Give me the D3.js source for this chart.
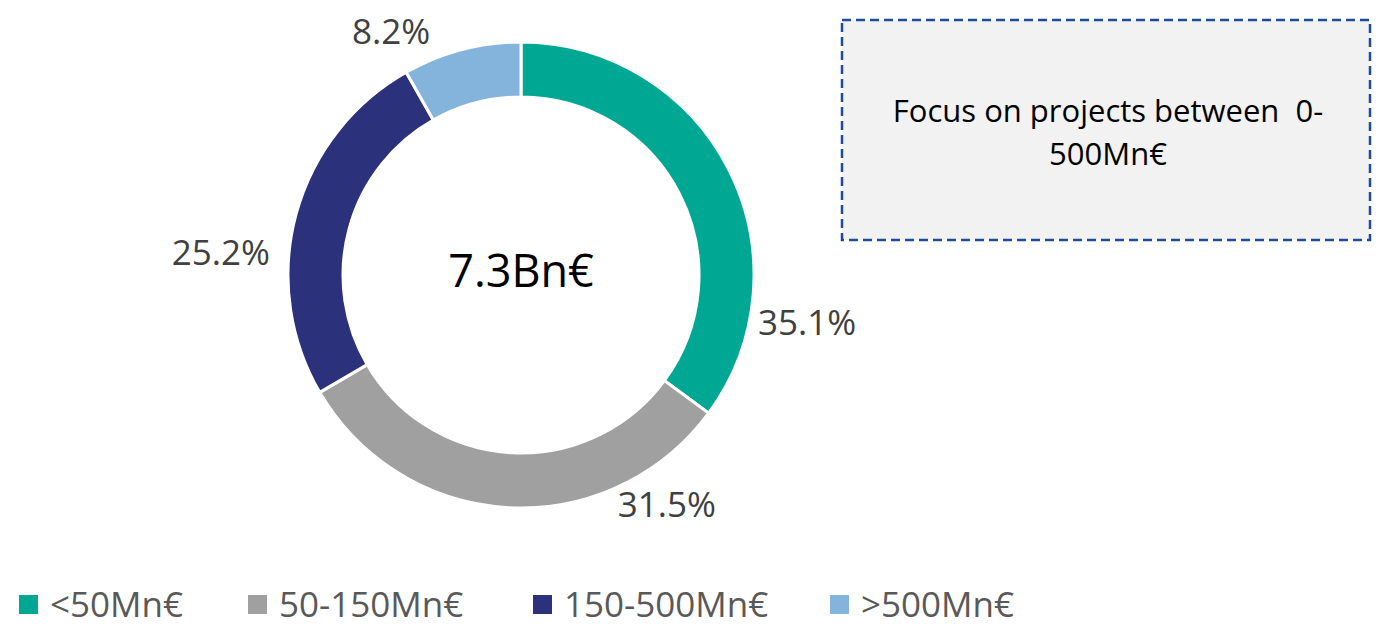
<!DOCTYPE html>
<html>
<head>
<meta charset="utf-8">
<script src="https://cdn.jsdelivr.net/npm/d3@7"></script>
<style>
  body { margin: 0; background: #fff; }
  svg { display: block; font-family: "Open Sans", sans-serif; }
</style>
</head>
<body>
<svg width="1379" height="627"></svg>
<script>
var categories = ['<50Mn€', '50-150Mn€', '150-500Mn€', '>500Mn€'];
var shares = [35.1, 31.5, 25.2, 8.2];
var colors = ['#00a894', '#a0a0a0', '#2b317b', '#84b4dc'];
var totalLabel = '7.3Bn€';
var noteLines = ['Focus on projects between  0-', '500Mn€'];

// label placement: angle in degrees from top, distance from centre
var labelSpots = [[99.4, 290], [147.6, 272], [274.3, 301], [331.9, 276]];

var cx = 521, cy = 275;
var outerR = 233, innerR = 178;

var svg = d3.select('svg');

var pie = d3.pie()
            .sort(null)
            .value(d => d);
var arc = d3.arc()
            .innerRadius(innerR)
            .outerRadius(outerR);

var donut = svg.append('g')
               .attr('transform', 'translate(' + cx + ',' + cy + ')');

donut.selectAll('path')
  .data(pie(shares))
  .enter()
  .append('path')
    .attr('d', arc)
    .attr('fill', (d, i) => colors[i])
    .attr('stroke', '#fff')
    .attr('stroke-width', 3);

var rad = a => a * Math.PI / 180;

donut.selectAll('text.pct')
  .data(shares)
  .enter()
  .append('text')
    .attr('class', 'pct')
    .attr('x', (d, i) => labelSpots[i][1] * Math.sin(rad(labelSpots[i][0])))
    .attr('y', (d, i) => -labelSpots[i][1] * Math.cos(rad(labelSpots[i][0])) + 12.5)
    .attr('text-anchor', 'middle')
    .attr('font-size', 35)
    .attr('fill', '#404040')
    .text(d => d.toFixed(1) + '%');

donut.append('text')
  .attr('y', 12)
  .attr('text-anchor', 'middle')
  .attr('font-size', 45)
  .attr('fill', '#000')
  .text(totalLabel);

// note box
var box = svg.append('g').attr('transform', 'translate(842,20)');
box.append('rect')
  .attr('width', 528)
  .attr('height', 220)
  .attr('fill', '#f2f2f2')
  .attr('stroke', '#1f4b99')
  .attr('stroke-width', 2.5)
  .attr('stroke-dasharray', '9,5');
box.selectAll('text')
  .data(noteLines)
  .enter()
  .append('text')
    .attr('x', 266)
    .attr('y', (d, i) => 102 + i * 43)
    .attr('text-anchor', 'middle')
    .attr('font-size', 31)
    .attr('fill', '#000')
    .style('white-space', 'pre')
    .text(d => d);

// legend
var legendX = [19, 248, 533, 830];
var legend = svg.selectAll('g.legend')
  .data(categories)
  .enter()
  .append('g')
    .attr('class', 'legend')
    .attr('transform', (d, i) => 'translate(' + legendX[i] + ',0)');
legend.append('rect')
  .attr('y', 595)
  .attr('width', 19)
  .attr('height', 19)
  .attr('fill', (d, i) => colors[i]);
legend.append('text')
  .attr('x', 31)
  .attr('y', 617)
  .attr('font-size', 35)
  .attr('fill', '#595959')
  .text(d => d);
</script>
</body>
</html>
